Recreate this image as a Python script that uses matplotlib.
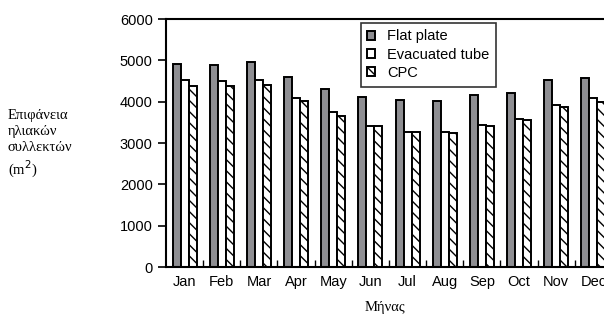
import numpy as np
import matplotlib.pyplot as plt

months = ['Jan', 'Feb', 'Mar', 'Apr', 'May', 'Jun',
          'Jul', 'Aug', 'Sep', 'Oct', 'Nov', 'Dec']
flat_plate = [4920, 4890, 4950, 4590, 4310, 4120, 4050, 4010, 4170, 4220, 4520, 4580]
evacuated = [4520, 4510, 4520, 4100, 3750, 3420, 3260, 3260, 3440, 3590, 3930, 4100]
cpc = [4380, 4370, 4400, 4020, 3660, 3400, 3270, 3240, 3420, 3550, 3860, 4000]

plt.rcParams['hatch.linewidth'] = 1.0

fig = plt.figure(figsize=(6.04, 3.2), dpi=100)
ax = fig.add_axes([0.2748, 0.1656, 0.7384, 0.775])

x = np.arange(len(months))
w = 0.215
ax.bar(x - w, flat_plate, w, color='#8e8e92', edgecolor='black', linewidth=1.4, label='Flat plate')
ax.bar(x, evacuated, w, color='white', edgecolor='black', linewidth=1.4, label='Evacuated tube')
ax.bar(x + w, cpc, w, color='white', edgecolor='black', linewidth=1.4, hatch='\\\\\\', label='CPC')

ax.set_xlim(-0.5, len(months) - 0.5)
ax.set_ylim(0, 6000)
ax.set_yticks(range(0, 6001, 1000))
ax.set_xticks(x)
ax.set_xticklabels(months)
ax.set_xticks(np.arange(0.5, len(months) - 0.5, 1), minor=True)

ax.tick_params(axis='x', which='major', length=0, pad=6, labelsize=10.5)
ax.tick_params(axis='x', which='minor', direction='in', length=5, width=1.0)
ax.tick_params(axis='y', direction='out', length=6, width=1.2, labelsize=10.5)
for lab in ax.get_xticklabels() + ax.get_yticklabels():
    lab.set_family('Liberation Sans')
for s in ax.spines.values():
    s.set_linewidth(1.5)

leg = ax.legend(loc='upper left', bbox_to_anchor=(0.437, 0.985), frameon=True, fancybox=False,
                edgecolor='black', prop={'family': 'Liberation Sans', 'size': 10.5},
                handlelength=0.55, handleheight=0.55, handletextpad=0.8, borderpad=0.45,
                labelspacing=0.3, borderaxespad=0)
leg.get_frame().set_linewidth(1.2)

fig.text(0.013, 0.66, 'Επιφάνεια\nηλιακών\nσυλλεκτών\n(m$^2$)', family='Liberation Serif',
         fontsize=10.5, va='top', ha='left', linespacing=1.3)
fig.text(0.637, 0.04, 'Μήνας', family='Liberation Serif', fontsize=10.5, ha='center', va='center')

fig.savefig('out.png', dpi=100)
